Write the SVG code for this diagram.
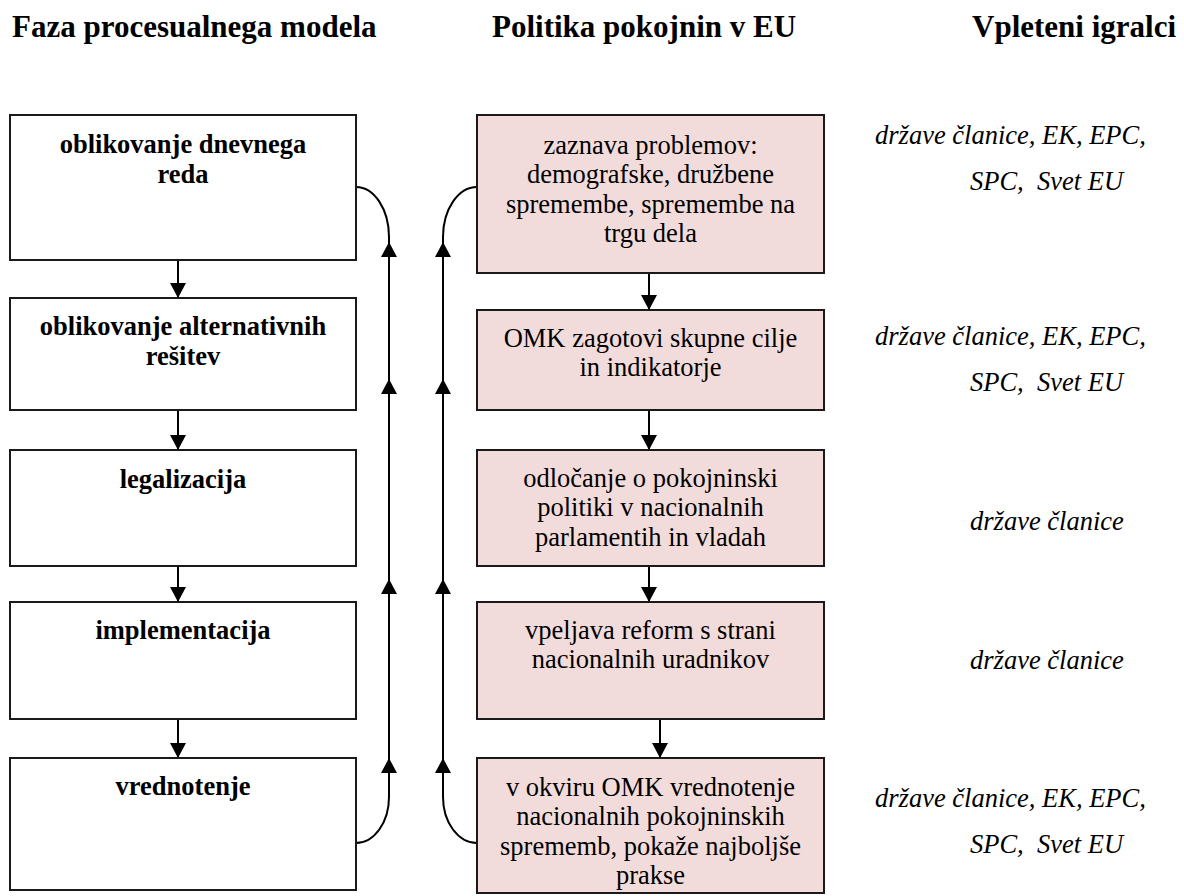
<svg xmlns="http://www.w3.org/2000/svg" width="1184" height="896" viewBox="0 0 1184 896">
<style>
.bg{fill:#ffffff}
text{font-family:'Liberation Serif',Tinos,'Times New Roman',Times,'DejaVu Serif',serif}
.hdr{font-weight:bold;font-size:31px;fill:#000}
.box{fill:#ffffff;stroke:#1a1a1a;stroke-width:2}
.pbox{fill:#f2dcdb;stroke:#1a1a1a;stroke-width:2}
.bt{font-weight:bold;font-size:26.5px;fill:#000;text-anchor:middle}
.rt{font-size:26.5px;fill:#000;text-anchor:middle}
.it{font-style:italic;font-size:26.5px;fill:#000}
.ln{fill:none;stroke:#000;stroke-width:2}
</style>
<defs>
<marker id="ah" markerUnits="userSpaceOnUse" markerWidth="15" markerHeight="16" viewBox="0 0 15 16" refX="15" refY="8" orient="auto">
<path d="M0,0 L15,8 L0,16 z" fill="#000"/>
</marker>
</defs>
<rect class="bg" x="0" y="0" width="1184" height="896"/>

<g id="headers">
<text class="hdr" x="12" y="37">Faza procesualnega modela</text>
<text class="hdr" x="492" y="37">Politika pokojnin v EU</text>
<text class="hdr" x="972" y="37">Vpleteni igralci</text>
</g>

<g id="connectors">
<line class="ln" x1="178" y1="260" x2="178" y2="298" marker-end="url(#ah)"/>
<line class="ln" x1="178" y1="410" x2="178" y2="450" marker-end="url(#ah)"/>
<line class="ln" x1="178" y1="566" x2="178" y2="602" marker-end="url(#ah)"/>
<line class="ln" x1="178" y1="719" x2="178" y2="758" marker-end="url(#ah)"/>
<line class="ln" x1="649" y1="273" x2="649" y2="310" marker-end="url(#ah)"/>
<line class="ln" x1="649" y1="410" x2="649" y2="450" marker-end="url(#ah)"/>
<line class="ln" x1="649" y1="566" x2="649" y2="602" marker-end="url(#ah)"/>
<line class="ln" x1="660" y1="719" x2="660" y2="758" marker-end="url(#ah)"/>
<path class="ln" d="M356,843 A33,46 0 0 0 389,797"/>
<path class="ln" d="M389,797 L389,758 L389,579 L389,379 L389,242 L389,237" marker-mid="url(#ah)"/>
<path class="ln" d="M389,237 A33,50 0 0 0 356,187"/>
<path class="ln" d="M477,843 A34,46 0 0 1 443,797"/>
<path class="ln" d="M443,797 L443,758 L443,579 L443,379 L443,242 L443,237" marker-mid="url(#ah)"/>
<path class="ln" d="M443,237 A34,50 0 0 1 477,187"/>
</g>

<g id="phase1">
<rect class="box" x="10" y="115" width="346" height="145"/>
<text class="bt" x="183" y="153">oblikovanje dnevnega</text>
<text class="bt" x="183" y="183">reda</text>
</g>
<g id="phase2">
<rect class="box" x="10" y="298" width="346" height="112"/>
<text class="bt" x="183" y="334.5">oblikovanje alternativnih</text>
<text class="bt" x="183" y="364.5">rešitev</text>
</g>
<g id="phase3">
<rect class="box" x="10" y="450" width="346" height="116"/>
<text class="bt" x="183" y="487.5">legalizacija</text>
</g>
<g id="phase4">
<rect class="box" x="10" y="602" width="346" height="117"/>
<text class="bt" x="183" y="638.5">implementacija</text>
</g>
<g id="phase5">
<rect class="box" x="10" y="758" width="346" height="132"/>
<text class="bt" x="183" y="794.5">vrednotenje</text>
</g>

<g id="policy1">
<rect class="pbox" x="477" y="115" width="347" height="158"/>
<text class="rt" x="650.5" y="153.5">zaznava problemov:</text>
<text class="rt" x="650.5" y="183">demografske, družbene</text>
<text class="rt" x="650.5" y="212.5">spremembe, spremembe na</text>
<text class="rt" x="650.5" y="242">trgu dela</text>
</g>
<g id="policy2">
<rect class="pbox" x="477" y="310" width="347" height="100"/>
<text class="rt" x="650.5" y="346.5">OMK zagotovi skupne cilje</text>
<text class="rt" x="650.5" y="376">in indikatorje</text>
</g>
<g id="policy3">
<rect class="pbox" x="477" y="450" width="347" height="116"/>
<text class="rt" x="650.5" y="486.5">odločanje o pokojninski</text>
<text class="rt" x="650.5" y="516">politiki v nacionalnih</text>
<text class="rt" x="650.5" y="545.5">parlamentih in vladah</text>
</g>
<g id="policy4">
<rect class="pbox" x="477" y="602" width="347" height="117"/>
<text class="rt" x="650.5" y="638.5">vpeljava reform s strani</text>
<text class="rt" x="650.5" y="668">nacionalnih uradnikov</text>
</g>
<g id="policy5">
<rect class="pbox" x="477" y="758" width="347" height="135"/>
<text class="rt" x="650.5" y="795.5">v okviru OMK vrednotenje</text>
<text class="rt" x="650.5" y="825">nacionalnih pokojninskih</text>
<text class="rt" x="650.5" y="854.5">sprememb, pokaže najboljše</text>
<text class="rt" x="650.5" y="884">prakse</text>
</g>

<g id="actors1">
<text class="it" x="875" y="143.5">države članice, EK, EPC,</text>
<text class="it" x="970" y="189.5">SPC,&#160; Svet EU</text>
</g>
<g id="actors2">
<text class="it" x="875" y="344.5">države članice, EK, EPC,</text>
<text class="it" x="970" y="390.5">SPC,&#160; Svet EU</text>
</g>
<g id="actors3">
<text class="it" x="970" y="529.5">države članice</text>
</g>
<g id="actors4">
<text class="it" x="970" y="668.5">države članice</text>
</g>
<g id="actors5">
<text class="it" x="875" y="806.5">države članice, EK, EPC,</text>
<text class="it" x="970" y="852.5">SPC,&#160; Svet EU</text>
</g>
</svg>
